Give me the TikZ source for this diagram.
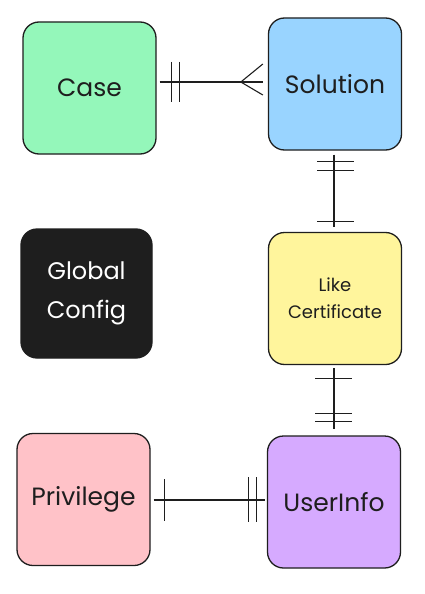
\documentclass[tikz,border=0pt]{standalone}
\usepackage{fontspec}
\setmainfont{Poppins}
\definecolor{ink}{HTML}{1E1E1E}
\definecolor{cgreen}{HTML}{94F7BA}
\definecolor{cblue}{HTML}{99D4FF}
\definecolor{cyellow}{HTML}{FFF59C}
\definecolor{cpink}{HTML}{FFC2C8}
\definecolor{cpurple}{HTML}{D6AAFF}
\definecolor{cblack}{HTML}{1E1E1E}
\begin{document}
\begin{tikzpicture}[x=1pt,y=-1pt,
  ent/.style={draw=ink, line width=1.3pt, rounded corners=16pt, inner sep=0pt,
    minimum width=133pt, minimum height=132pt, align=center, text=ink,
    font=\fontsize{25}{30}\selectfont},
  rel/.style={draw=ink, line width=1.1pt},
]
\useasboundingbox (0,0) rectangle (425,594);
\fill[white] (0,0) rectangle (425,594);

\node[ent, fill=cgreen] (case) at (89.5,88) {Case};
\node[ent, fill=cblue] (sol) at (335,84) {Solution};
\node[ent, fill=cblack, text=white, minimum width=131pt, minimum height=129pt,
  font=\fontsize{24}{39}\selectfont] (glob) at (86.5,293.5) {Global\\Config};
\node[ent, fill=cyellow, font=\fontsize{18}{27}\selectfont] (like) at (335,298.5) {Like\\Certificate};
\node[ent, fill=cpink] (priv) at (83.5,499.5) {Privilege};
\node[ent, fill=cpurple] (user) at (334,502) {UserInfo};

% Case -- Solution (one and only one -- many)
\draw[rel] ([shift={(3,-6)}]case.east) -- ([shift={(-5,-2)}]sol.west);
\draw[rel] ([shift={(15,-26)}]case.east) -- ++(0,40);
\draw[rel] ([shift={(23,-26)}]case.east) -- ++(0,40);
\draw[rel] ([shift={(-27,-2)}]sol.west) -- ++(22,-18);
\draw[rel] ([shift={(-27,-2)}]sol.west) -- ++(22,13);

% Solution -- Like Certificate
\draw[rel] ([shift={(-1,4)}]sol.south) -- ([shift={(-1,-5)}]like.north);
\draw[rel] ([shift={(-18,11)}]sol.south) -- ++(37,0);
\draw[rel] ([shift={(-18,20)}]sol.south) -- ++(37,0);
\draw[rel] ([shift={(-18,-10)}]like.north) -- ++(37,0);

% Like Certificate -- UserInfo
\draw[rel] ([shift={(-1,3)}]like.south) -- ([shift={(0,-6)}]user.north);
\draw[rel] ([shift={(-20,13)}]like.south) -- ++(37,0);
\draw[rel] ([shift={(-19,-22)}]user.north) -- ++(37,0);
\draw[rel] ([shift={(-19,-14)}]user.north) -- ++(37,0);

% Privilege -- UserInfo
\draw[rel] ([shift={(3,0.5)}]priv.east) -- ([shift={(-2,-2)}]user.west);
\draw[rel] ([shift={(14,-20.5)}]priv.east) -- ++(0,42);
\draw[rel] ([shift={(-18,-25)}]user.west) -- ++(0,45);
\draw[rel] ([shift={(-10,-25)}]user.west) -- ++(0,45);
\end{tikzpicture}
\end{document}
